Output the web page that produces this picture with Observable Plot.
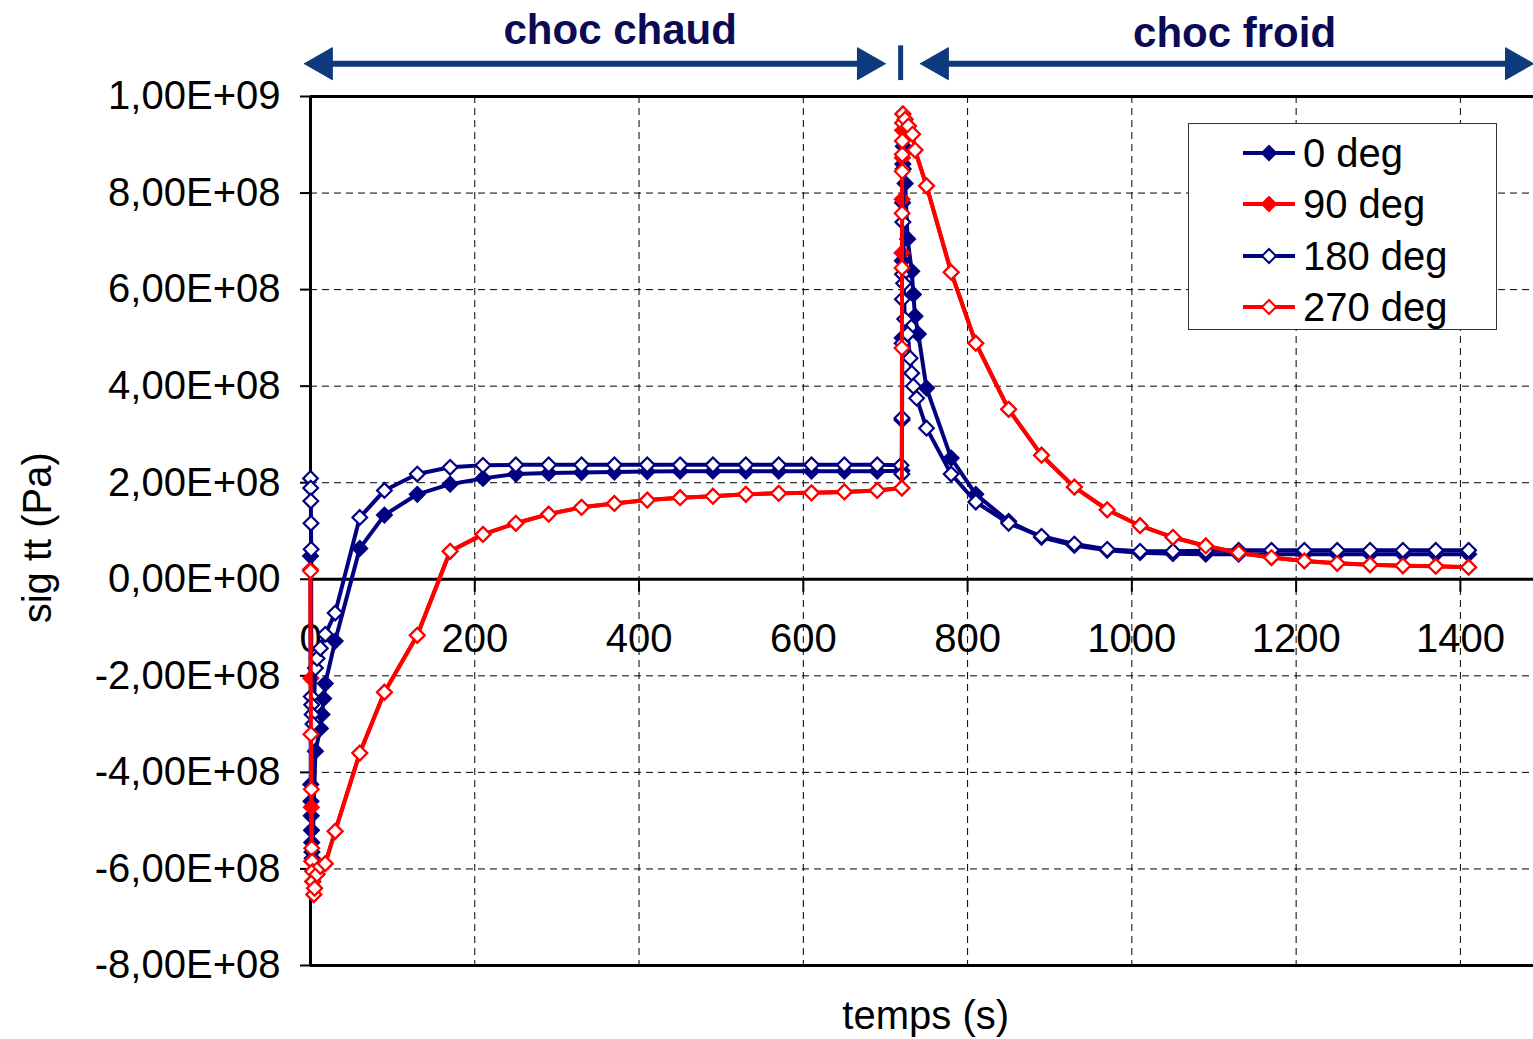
<!DOCTYPE html>
<html>
<head>
<meta charset="utf-8">
<script src="https://cdn.jsdelivr.net/npm/d3@7"></script>
<script src="https://cdn.jsdelivr.net/npm/@observablehq/plot@0.6"></script>
<style>
  body { margin: 0; background: #fff; font-family: "Liberation Sans", Arial, sans-serif; }
  #wrap { position: relative; width: 1533px; height: 1039px; }
  #legend { position: absolute; left: 1188px; top: 123px; width: 307px; height: 205px;
            border: 1px solid #333; background: #fff; }
  .row { position: absolute; left: 0; width: 300px; height: 44px; }
  .row svg { position: absolute; left: 53px; top: 12px; }
  .row span { position: absolute; left: 114px; top: 0; font-size: 40px; line-height: 44px; color: #000; white-space: nowrap; }
</style>
</head>
<body>
<div id="wrap"><div id="legend"></div></div>
<script>
// ---- data (stress values in units of 1e8 Pa, time in s) ----
const seriesNames = ["0 deg", "90 deg", "180 deg", "270 deg"];
const seriesColors = ["#000080", "#ff0000", "#000080", "#ff0000"];
const seriesFilled = [true, true, false, false];

const t0 = [0, 0.3, 0.6, 0.9, 1.2, 1.5, 1.8, 2.1, 6, 12, 14, 16, 18, 30,
  60, 90, 130, 170, 210, 250, 290, 330, 370, 410, 450, 490, 530, 570, 610, 650, 690,
  719, 720, 720.2, 720.4, 720.6, 720.8, 721.2, 721.8, 724, 727, 732, 734, 736, 740, 750,
  780, 810, 850, 890, 930, 970, 1010, 1050, 1090, 1130, 1170, 1210, 1250, 1290, 1330, 1370, 1410];
const v0 = [0.48, -4.25, -4.6, -4.9, -5.2, -5.45, -5.65, -5.78, -3.56, -3.09, -2.8, -2.47, -2.16, -1.28,
  0.64, 1.33, 1.76, 1.97, 2.09, 2.18, 2.20, 2.21, 2.22, 2.23, 2.24, 2.24, 2.24, 2.24, 2.24, 2.24, 2.24,
  2.25, 2.25, 3.3, 5.0, 6.6, 7.8, 8.6, 8.97, 8.2, 7.05, 6.38, 5.9, 5.45, 5.08, 3.96,
  2.51, 1.76, 1.2, 0.87, 0.70, 0.60, 0.55, 0.53, 0.52, 0.52, 0.52, 0.52, 0.52, 0.52, 0.52, 0.52, 0.52];

const t90 = [0, 0.5, 1, 1.5, 2.5, 4, 5, 8, 12, 18, 30,
  60, 90, 130, 170, 210, 250, 290, 330, 370, 410, 450, 490, 530, 570, 610, 650, 690,
  720, 720.2, 720.4, 720.6, 720.9, 721.2, 724, 728, 733, 736, 750,
  780, 810, 850, 890, 930, 970, 1010, 1050, 1090, 1130, 1170, 1210, 1250, 1290, 1330, 1370, 1410];
const v90 = [0.2, -2.05, -4.72, -5.84, -6.26, -6.53, -6.4, -6.11, -5.95, -5.89, -5.22,
  -3.6, -2.34, -1.16, 0.58, 0.93, 1.16, 1.35, 1.49, 1.57, 1.64, 1.69, 1.72, 1.76, 1.78, 1.79, 1.81, 1.84,
  1.89, 6.76, 7.87, 8.73, 9.3, 9.64, 9.53, 9.39, 9.22, 8.89, 8.15,
  6.36, 4.89, 3.52, 2.57, 1.91, 1.44, 1.11, 0.87, 0.69, 0.55, 0.45, 0.38, 0.33, 0.3, 0.28, 0.27, 0.25];

const t180 = [0, 0.2, 0.4, 0.6, 0.8, 1.0, 1.5, 2, 3, 6, 8, 12, 18, 30,
  60, 90, 130, 170, 210, 250, 290, 330, 370, 410, 450, 490, 530, 570, 610, 650, 690,
  719, 720, 720.2, 720.4, 720.6, 720.8, 721.2, 721.6, 722.2, 723.5, 727, 730, 732, 734, 738, 750,
  780, 810, 850, 890, 930, 970, 1010, 1050, 1090, 1130, 1170, 1210, 1250, 1290, 1330, 1370, 1410];
const v180 = [2.09, 1.89, 1.62, 1.16, 0.62, -2.43, -2.6, -2.8, -3.0, -1.84, -1.64, -1.43, -1.14, -0.70,
  1.28, 1.84, 2.18, 2.32, 2.36, 2.37, 2.37, 2.37, 2.37, 2.37, 2.37, 2.37, 2.37, 2.37, 2.37, 2.37, 2.37,
  2.36, 2.18, 3.34, 4.89, 5.8, 6.32, 7.4, 8.5, 6.13, 5.39, 5.08, 4.58, 4.27, 4.0, 3.75, 3.13,
  2.18, 1.6, 1.16, 0.89, 0.73, 0.62, 0.58, 0.58, 0.59, 0.6, 0.6, 0.6, 0.6, 0.6, 0.6, 0.6, 0.6];

const t270 = [0, 0.5, 1, 1.5, 2, 2.5, 3, 4, 5, 8, 12, 18, 30,
  60, 90, 130, 170, 210, 250, 290, 330, 370, 410, 450, 490, 530, 570, 610, 650, 690,
  720, 720.1, 720.2, 720.3, 720.4, 720.5, 720.6, 720.8, 721.2, 724, 728, 733, 736, 750,
  780, 810, 850, 890, 930, 970, 1010, 1050, 1090, 1130, 1170, 1210, 1250, 1290, 1330, 1370, 1410];
const v270 = [0.17, -3.21, -4.35, -5.57, -5.84, -6.05, -6.26, -6.53, -6.4, -6.11, -5.95, -5.89, -5.22,
  -3.6, -2.34, -1.16, 0.58, 0.93, 1.16, 1.35, 1.49, 1.57, 1.64, 1.69, 1.72, 1.76, 1.78, 1.79, 1.81, 1.84,
  1.89, 4.79, 6.45, 7.58, 8.45, 8.8, 9.08, 9.45, 9.64, 9.53, 9.39, 9.22, 8.89, 8.15,
  6.36, 4.89, 3.52, 2.57, 1.91, 1.44, 1.11, 0.87, 0.69, 0.55, 0.45, 0.38, 0.33, 0.3, 0.28, 0.27, 0.25];

const xTicks = [0, 200, 400, 600, 800, 1000, 1200, 1400];
const xTickLabels = ["0", "200", "400", "600", "800", "1000", "1200", "1400"];
const yTicks = [-8e8, -6e8, -4e8, -2e8, 0, 2e8, 4e8, 6e8, 8e8, 1e9];
const yTickLabels = ["-8,00E+08", "-6,00E+08", "-4,00E+08", "-2,00E+08", "0,00E+00",
  "2,00E+08", "4,00E+08", "6,00E+08", "8,00E+08", "1,00E+09"];

const xTitle = "temps (s)";
const yTitle = "sig tt (Pa)";
const phaseLabels = ["choc chaud", "choc froid"];
// annotation anchors (x in s, y in Pa) above the frame
const phaseLabelX = [377, 1125];
const phaseLabelY = [1.1375e9, 1.131e9];
const arrowY = 1.068e9;
const arrowSpans = [[-7.5, 700], [742.5, 1489]];
const separatorX = 718.5;
const separatorY = [1.033e9, 1.105e9];

// ---- build ----
const xDomain = [0, 1489];
const yDomain = [-8e8, 1e9];
const tArr = [t0, t90, t180, t270];
const vArr = [v0, v90, v180, v270];
const series = seriesNames.map((name, k) => ({
  name, color: seriesColors[k], filled: seriesFilled[k],
  rows: tArr[k].map((t, i) => ({t, v: vArr[k][i] * 1e8}))
}));

const navyText = "#0b0b55";
const arrowColor = "#0c3a7c";
const yPerPx = (yDomain[1] - yDomain[0]) / (1039 - 96 - 74);
const xPerPx = (xDomain[1] - xDomain[0]) / (1533 - 310);
const tickLen = 13 * yPerPx;
const headLen = 28 * xPerPx, headHalf = 16 * yPerPx;

const heads = [];
arrowSpans.forEach(([a, b]) => {
  heads.push([{x: a, y: arrowY}, {x: a + headLen, y: arrowY + headHalf}, {x: a + headLen, y: arrowY - headHalf}, {x: a, y: arrowY}]);
  heads.push([{x: b, y: arrowY}, {x: b - headLen, y: arrowY + headHalf}, {x: b - headLen, y: arrowY - headHalf}, {x: b, y: arrowY}]);
});

const marks = [
  Plot.gridY(yTicks.filter(d => d !== 0 && d !== 1e9 && d !== -8e8), {stroke: "#000", strokeOpacity: 1, strokeWidth: 1, strokeDasharray: "7,5"}),
  Plot.gridX(xTicks.filter(d => d > 0), {stroke: "#000", strokeOpacity: 1, strokeWidth: 1, strokeDasharray: "7,5"}),
  Plot.ruleY([0], {stroke: "#000", strokeWidth: 3}),
  Plot.ruleY([1e9, -8e8], {stroke: "#000", strokeWidth: 3}),
  Plot.ruleX([0], {y1: -8e8, y2: 1e9, stroke: "#000", strokeWidth: 3}),
  Plot.ruleX(xTicks, {x: d => d, y1: 0, y2: -tickLen, stroke: "#000", strokeWidth: 2}),
  Plot.text(xTicks, {x: d => d, y: 0, text: d => xTickLabels[xTicks.indexOf(d)], dy: 60, fontSize: 40, fill: "#000"}),
  Plot.axisY(yTicks, {tickSize: 10, tickPadding: 20, strokeWidth: 2, fontSize: 40, label: null,
    tickFormat: d => yTickLabels[yTicks.indexOf(d)]}),
];

series.forEach(s => {
  marks.push(Plot.line(s.rows, {x: "t", y: "v", stroke: s.color, strokeWidth: 4, curve: "linear"}));
  marks.push(Plot.dot(s.rows, {x: "t", y: "v", symbol: "diamond2", r: 6.6,
    fill: s.filled ? s.color : "#fff", stroke: s.color, strokeWidth: 2.2}));
});

// annotations above the frame
marks.push(
  Plot.text(phaseLabels, {x: (d, i) => phaseLabelX[i], y: (d, i) => phaseLabelY[i], text: d => d,
    fontSize: 42, fontWeight: "bold", fill: navyText}),
  Plot.link(arrowSpans, {x1: d => d[0] + headLen * 0.5, x2: d => d[1] - headLen * 0.5, y1: arrowY, y2: arrowY,
    stroke: arrowColor, strokeWidth: 6}),
  ...heads.map(h => Plot.line(h, {x: "x", y: "y", fill: arrowColor, stroke: arrowColor, strokeWidth: 1})),
  Plot.ruleX([separatorX], {y1: separatorY[0], y2: separatorY[1], stroke: arrowColor, strokeWidth: 5}),
  Plot.text([xTitle], {x: 749, y: -9.06e8, text: d => d, fontSize: 40, fill: "#000"}),
  Plot.text([yTitle], {x: -332, y: 0.86e8, text: d => d, rotate: -90, fontSize: 40, fill: "#000"})
);

const chart = Plot.plot({
  width: 1533, height: 1039,
  marginLeft: 310, marginRight: 0, marginTop: 96, marginBottom: 74,
  x: {domain: xDomain, axis: null},
  y: {domain: yDomain},
  style: {fontFamily: '"Liberation Sans", Arial, sans-serif', fontSize: "40px", background: "#fff", color: "#000", overflow: "visible"},
  marks
});
document.getElementById("wrap").prepend(chart);

// legend
const legend = document.getElementById("legend");
const rowCenters = [29, 80, 132, 183];
series.forEach((s, k) => {
  const row = document.createElement("div");
  row.className = "row";
  row.style.top = (rowCenters[k] - 22) + "px";
  row.innerHTML = `<svg width="54" height="20" viewBox="0 0 54 20">
    <line x1="1" y1="10" x2="53" y2="10" stroke="${s.color}" stroke-width="4"/>
    <path d="M27,3 L34,10 L27,17 L20,10 Z" fill="${s.filled ? s.color : "#fff"}" stroke="${s.color}" stroke-width="2"/>
  </svg><span>${s.name}</span>`;
  legend.appendChild(row);
});
</script>
</body>
</html>
